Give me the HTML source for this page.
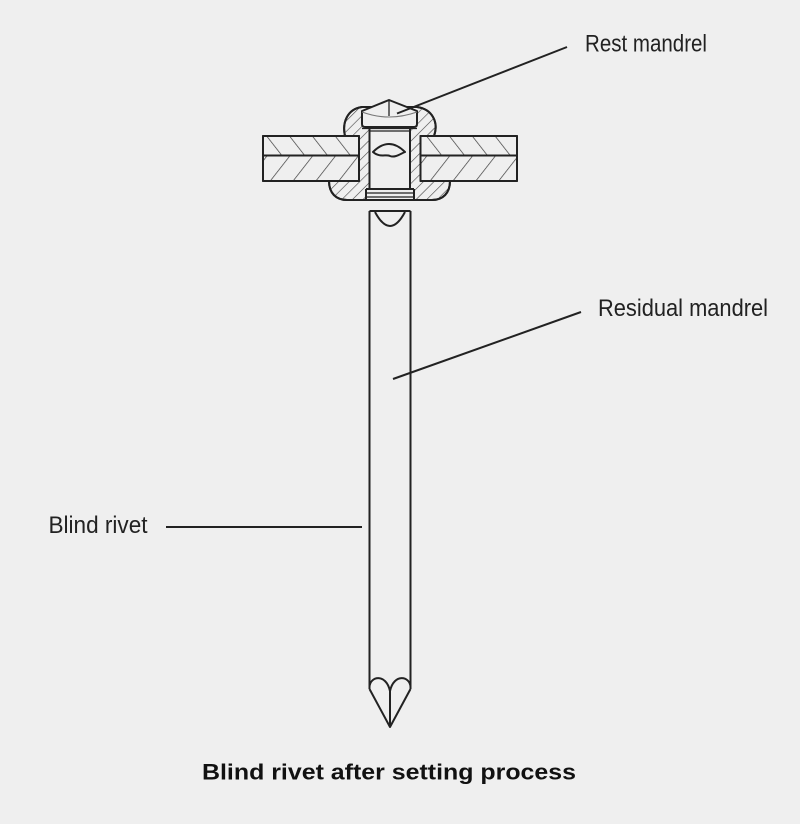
<!DOCTYPE html>
<html><head><meta charset="utf-8"><style>
html,body{margin:0;padding:0;background:#efefef;}
svg{display:block;}
</style></head><body>
<svg width="800" height="824" viewBox="0 0 800 824" xmlns="http://www.w3.org/2000/svg">
<defs>
<pattern id="hs" patternUnits="userSpaceOnUse" width="18" height="18" patternTransform="rotate(38)">
<line x1="0" y1="-2" x2="0" y2="20" stroke="#3a3a3a" stroke-width="1.4"/>
</pattern>
<pattern id="hb" patternUnits="userSpaceOnUse" width="18" height="18" patternTransform="rotate(-38)">
<line x1="0" y1="-2" x2="0" y2="20" stroke="#3a3a3a" stroke-width="1.4"/>
</pattern>
<pattern id="hr" patternUnits="userSpaceOnUse" width="7.5" height="7.5" patternTransform="rotate(45)">
<line x1="0" y1="-2" x2="0" y2="10" stroke="#444" stroke-width="1.2"/>
</pattern>
</defs>
<rect width="800" height="824" fill="#efefef"/>
<g stroke="#222" stroke-width="2" fill="none" stroke-linejoin="round">
<!-- rivet body -->
<path d="M345 136 C342 123 347 109 362 107 L417 107 C432 109 439 122 434 136 L434 181 L450 181 C450 193 443 200 432 200 L347 200 C336 200 329 193 329 181 L345 181 Z" fill="#efefef"/>
<path d="M345 136 C342 123 347 109 362 107 L417 107 C432 109 439 122 434 136 L434 181 L450 181 C450 193 443 200 432 200 L347 200 C336 200 329 193 329 181 L345 181 Z" fill="url(#hr)"/>
<!-- plates -->
<rect x="263" y="136" width="96" height="45" fill="#efefef"/>
<rect x="263" y="136" width="96" height="19.5" fill="url(#hb)" stroke="none"/>
<rect x="263" y="155.5" width="96" height="25.5" fill="url(#hs)" stroke="none"/>
<rect x="263" y="136" width="96" height="45"/>
<line x1="263" y1="155.5" x2="359" y2="155.5"/>
<rect x="420.5" y="136" width="96.5" height="45" fill="#efefef"/>
<rect x="420.5" y="136" width="96.5" height="19.5" fill="url(#hb)" stroke="none"/>
<rect x="420.5" y="155.5" width="96.5" height="25.5" fill="url(#hs)" stroke="none"/>
<rect x="420.5" y="136" width="96.5" height="45"/>
<line x1="420.5" y1="155.5" x2="517" y2="155.5"/>
<!-- bore -->
<rect x="369.5" y="127" width="40.5" height="62" fill="#efefef" stroke="none"/>
<line x1="369.5" y1="128" x2="369.5" y2="189"/>
<line x1="410" y1="128" x2="410" y2="189"/>
<rect x="366" y="189" width="48" height="10" fill="#efefef" stroke="none"/>
<line x1="366" y1="189" x2="414" y2="189"/>
<line x1="366" y1="193" x2="414" y2="193" stroke-width="1.3"/>
<line x1="366" y1="197" x2="414" y2="197" stroke-width="1.3"/>
<line x1="366" y1="189" x2="366" y2="199"/>
<line x1="414" y1="189" x2="414" y2="199"/>
<!-- blob in bore -->
<path d="M373 152 Q389 136 405 152 C400 154 395 158 390 156 C386 154 380 158 373 152 Z" fill="#efefef"/>
<!-- mandrel head -->
<path d="M362 111 L362 124 Q362 127 365 127 L414 127 Q417 127 417 124 L417 111 L389 100 Z" fill="#efefef"/>
<line x1="389" y1="100" x2="389" y2="116" stroke-width="1.3"/>
<path d="M362 112 Q389 122 417 112" stroke-width="1.1" stroke="#777"/>
<line x1="362" y1="128.5" x2="417" y2="128.5" stroke-width="1.3"/>
<line x1="369.5" y1="131" x2="410" y2="131" stroke-width="1.3"/>
<!-- shaft -->
<line x1="369.5" y1="211" x2="410.5" y2="211"/>
<path d="M375 212 Q390 240 405 212"/>
<line x1="369.5" y1="211" x2="369.5" y2="689"/>
<line x1="410.5" y1="211" x2="410.5" y2="689"/>
<path d="M369.5 689 L390 727 L410.5 689"/>
<path d="M369.5 687 C370 676 386 673 390 691 C394 673 410 676 410.5 687"/>
<line x1="390" y1="691" x2="390" y2="727"/>
<!-- leaders -->
<line x1="397" y1="113.5" x2="567" y2="47" stroke-width="2"/>
<line x1="393" y1="379" x2="581" y2="312" stroke-width="2"/>
<line x1="166" y1="527" x2="362" y2="527" stroke-width="2"/>
</g>
<g font-family="Liberation Sans, sans-serif" fill="#222">
<text x="585" y="51.5" font-size="24" textLength="122" lengthAdjust="spacingAndGlyphs">Rest mandrel</text>
<text x="598" y="316" font-size="24" textLength="170" lengthAdjust="spacingAndGlyphs">Residual mandrel</text>
<text x="48.5" y="533" font-size="24" textLength="99" lengthAdjust="spacingAndGlyphs">Blind rivet</text>
<text x="202" y="779.5" font-size="22" font-weight="bold" fill="#111" textLength="374" lengthAdjust="spacingAndGlyphs">Blind rivet after setting process</text>
</g>
</svg>
</body></html>
